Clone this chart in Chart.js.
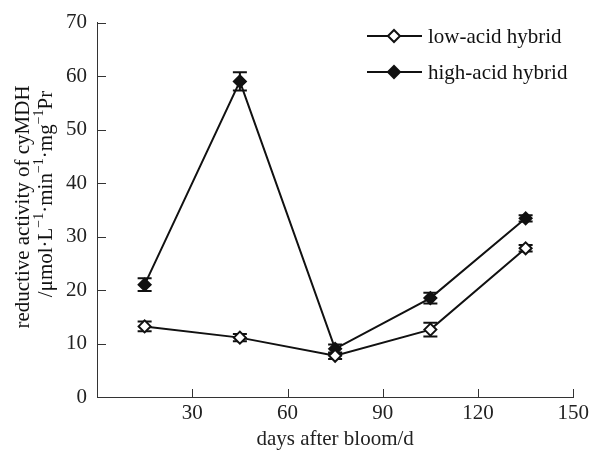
<!DOCTYPE html>
<html>
<head>
<meta charset="utf-8">
<script src="https://cdn.jsdelivr.net/npm/chart.js@4/dist/chart.umd.min.js"></script>
<style>
  html, body { margin: 0; padding: 0; background: #fff; }
  #wrap { width: 593px; height: 450px; }
</style>
</head>
<body>
<div id="wrap"><canvas id="chart" width="593" height="450"></canvas></div>
<script>
// data
const days = [15, 45, 75, 105, 135];
const lowAcid = [13.2, 11.1, 7.7, 12.6, 27.8];
const lowAcidErr = [0.9, 0.7, 0.6, 1.3, 0.6];
const highAcid = [21.0, 59.0, 9.0, 18.5, 33.4];
const highAcidErr = [1.2, 1.7, 0.8, 1.0, 0.6];
const seriesNames = ['low-acid hybrid', 'high-acid hybrid'];
const xTicks = [0, 30, 60, 90, 120, 150];
const yTicks = [0, 10, 20, 30, 40, 50, 60, 70];
const xTitle = 'days after bloom/d';
const yTitle = 'reductive activity of cyMDH';
const yUnit = [['/μmol·L', false], ['−1', true], ['·min', false], ['−1', true], ['·mg', false], ['−1', true], ['Pr', false]];

const FONT = '"Liberation Serif", "Times New Roman", serif';
const INK = '#111';

function diamond(ctx, x, y, r, fill) {
    ctx.beginPath();
    ctx.moveTo(x - r, y);
    ctx.lineTo(x, y - r);
    ctx.lineTo(x + r, y);
    ctx.lineTo(x, y + r);
    ctx.closePath();
    ctx.fillStyle = fill;
    ctx.fill();
    ctx.stroke();
}

// error bars, drawn under the lines and markers
const errorBars = {
    id: 'errorBars',
    beforeDatasetsDraw(chart) {
        const { ctx, scales: { x, y } } = chart;
        ctx.save();
        ctx.strokeStyle = INK;
        ctx.lineWidth = 2;
        chart.data.datasets.forEach(ds => {
            ds.data.forEach((p, i) => {
                const e = ds.errors[i];
                const px = x.getPixelForValue(p.x);
                const top = y.getPixelForValue(p.y + e);
                const bot = y.getPixelForValue(p.y - e);
                ctx.beginPath();
                ctx.moveTo(px, top); ctx.lineTo(px, bot);
                ctx.moveTo(px - 7, top); ctx.lineTo(px + 7, top);
                ctx.moveTo(px - 7, bot); ctx.lineTo(px + 7, bot);
                ctx.stroke();
            });
        });
        ctx.restore();
    }
};

// inward tick marks, legend and the y title
const decorations = {
    id: 'decorations',
    afterDraw(chart) {
        const { ctx, scales: { x, y }, chartArea } = chart;
        ctx.save();
        ctx.strokeStyle = '#333';
        ctx.lineWidth = 1;
        ctx.beginPath();
        x.ticks.forEach(t => {
            if (t.value === 0) return;
            const px = Math.round(x.getPixelForValue(t.value)) + 0.5;
            ctx.moveTo(px, chartArea.bottom);
            ctx.lineTo(px, chartArea.bottom - 8);
        });
        y.ticks.forEach(t => {
            if (t.value === 0) return;
            const py = Math.round(y.getPixelForValue(t.value)) + 0.5;
            ctx.moveTo(chartArea.left, py);
            ctx.lineTo(chartArea.left + 9, py);
        });
        ctx.stroke();

        // legend
        ctx.strokeStyle = INK;
        ctx.lineWidth = 2;
        ctx.font = '21px ' + FONT;
        ctx.textBaseline = 'middle';
        ctx.textAlign = 'left';
        chart.data.datasets.forEach((ds, i) => {
            const ly = 36 + i * 36;
            ctx.beginPath();
            ctx.moveTo(367, ly); ctx.lineTo(422, ly);
            ctx.stroke();
            diamond(ctx, 394, ly, 6, ds.pointBackgroundColor);
            ctx.fillStyle = INK;
            ctx.fillText(ds.label, 428, ly + 1);
        });

        // y title, two lines
        ctx.fillStyle = INK;
        ctx.save();
        ctx.translate(23, 207);
        ctx.rotate(-Math.PI / 2);
        ctx.textAlign = 'center';
        ctx.fillText(yTitle, 0, 0);
        ctx.restore();

        ctx.save();
        ctx.translate(46, 194);
        ctx.rotate(-Math.PI / 2);
        ctx.textAlign = 'left';
        const big = '21px ' + FONT, small = '14px ' + FONT;
        let total = 0;
        yUnit.forEach(([s, sup]) => { ctx.font = sup ? small : big; total += ctx.measureText(s).width; });
        let cx = -total / 2;
        yUnit.forEach(([s, sup]) => {
            ctx.font = sup ? small : big;
            ctx.fillText(s, cx, sup ? -7 : 0);
            cx += ctx.measureText(s).width;
        });
        ctx.restore();
        ctx.restore();
    }
};

const ctx = document.getElementById('chart').getContext('2d');
new Chart(ctx, {
    type: 'line',
    data: {
        datasets: [
            {
                label: seriesNames[0],
                data: days.map((d, i) => ({ x: d, y: lowAcid[i] })),
                errors: lowAcidErr,
                borderColor: INK,
                borderWidth: 2,
                pointStyle: 'rectRot',
                pointRadius: 6,
                pointBorderWidth: 2,
                pointBorderColor: INK,
                pointBackgroundColor: '#ffffff',
                tension: 0
            },
            {
                label: seriesNames[1],
                data: days.map((d, i) => ({ x: d, y: highAcid[i] })),
                errors: highAcidErr,
                borderColor: INK,
                borderWidth: 2,
                pointStyle: 'rectRot',
                pointRadius: 6,
                pointBorderWidth: 2,
                pointBorderColor: INK,
                pointBackgroundColor: INK,
                tension: 0
            }
        ]
    },
    options: {
        responsive: false,
        animation: false,
        layout: { padding: { left: 0, top: 19, right: 16, bottom: 0 } },
        plugins: {
            legend: { display: false },
            tooltip: { enabled: false }
        },
        scales: {
            x: {
                type: 'linear',
                min: 0,
                max: 150,
                afterBuildTicks: s => { s.ticks = xTicks.map(v => ({ value: v })); },
                afterFit: s => { s.height = 53; },
                grid: { display: false, drawTicks: false },
                border: { display: true, color: '#333', width: 1 },
                ticks: {
                    padding: 4,
                    color: '#222',
                    font: { family: FONT, size: 21 },
                    maxRotation: 0,
                    callback: v => (v === 0 ? '' : v)
                },
                title: {
                    display: true,
                    text: xTitle,
                    color: '#222',
                    font: { family: FONT, size: 21, lineHeight: 1 },
                    padding: { top: 0, bottom: 0 }
                }
            },
            y: {
                min: 0,
                max: 70,
                afterBuildTicks: s => { s.ticks = yTicks.map(v => ({ value: v })); },
                afterFit: s => { s.width = 97; },
                grid: { display: false, drawTicks: false },
                border: { display: true, color: '#333', width: 1 },
                ticks: {
                    padding: 10,
                    color: '#222',
                    font: { family: FONT, size: 21 }
                }
            }
        }
    },
    plugins: [errorBars, decorations]
});
</script>
</body>
</html>
